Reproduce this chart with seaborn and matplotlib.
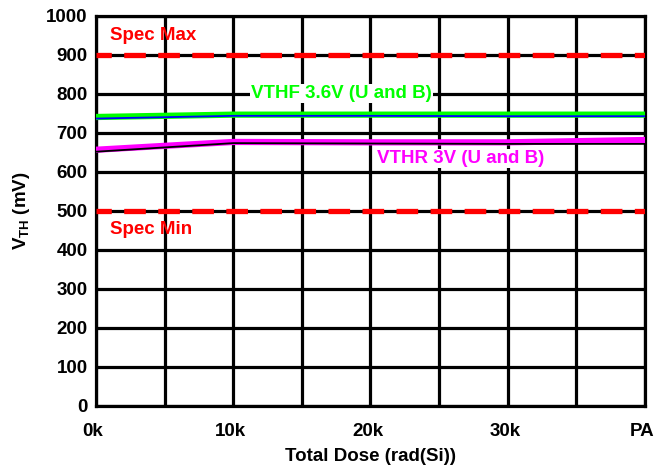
import numpy as np
import pandas as pd
import matplotlib
matplotlib.use("Agg")
import matplotlib.pyplot as plt
import matplotlib.transforms as mtransforms
from matplotlib.ticker import MultipleLocator
import seaborn as sns

# ======================================
# DATA
dose_k = [0, 10, 20, 30, 40]
dose_labels = ["0k", "10k", "20k", "30k", "PA"]
vthf_u = [741, 747, 747, 747, 747]   # green, thick
vthf_b = [737, 744, 744, 743, 743]   # blue, thin
vthr_u = [657, 677, 676, 676, 682]   # magenta, thick
vthr_b = [652, 674, 673, 672, 672]   # black, thin
spec_max = 900
spec_min = 500

df = pd.DataFrame({
    "dose": dose_k * 4,
    "vth": vthf_u + vthf_b + vthr_u + vthr_b,
    "series": ["VTHF U"] * 5 + ["VTHF B"] * 5 + ["VTHR U"] * 5 + ["VTHR B"] * 5,
})

# ======================================
# STYLE
sns.set_style("white")
plt.rcParams["font.family"] = ["Liberation Sans", "DejaVu Sans"]
plt.rcParams["font.weight"] = "bold"
for key in ["text.color", "axes.labelcolor", "xtick.color", "ytick.color"]:
    plt.rcParams[key] = "black"
FS = 13.5

fig = plt.figure(figsize=(6.54, 4.65), dpi=100)
ax = fig.add_axes([0.1468, 0.127, 0.8394, 0.8386])

ax.set_xlim(0, 40)
ax.set_ylim(0, 1000)
ax.xaxis.set_major_locator(MultipleLocator(10))
ax.xaxis.set_minor_locator(MultipleLocator(5))
ax.yaxis.set_major_locator(MultipleLocator(100))
ax.set_xticks(dose_k)
ax.set_xticklabels(dose_labels)

ax.grid(True, which="both", color="black", linewidth=2.3, zorder=0)
ax.set_axisbelow(True)
for s in ax.spines.values():
    s.set_color("black")
    s.set_linewidth(2.3)

ax.tick_params(axis="both", which="both", direction="out", length=4, width=2.3,
               color="black", labelcolor="black", labelsize=FS)
ax.tick_params(axis="x", which="major", pad=8)
ax.tick_params(axis="y", which="major", pad=2)
shift = mtransforms.ScaledTranslation(-3 / 100, 0, fig.dpi_scale_trans)
for lbl in ax.get_xticklabels():
    lbl.set_fontweight("bold")
    lbl.set_transform(lbl.get_transform() + shift)
for lbl in ax.get_yticklabels():
    lbl.set_fontweight("bold")

# ======================================
# SPEC LINES
for v in (spec_max, spec_min):
    ax.axhline(v, color="#ff0000", linewidth=3.8,
               linestyle=(1.2, (4.1, 2.35)), zorder=3)

# ======================================
# DATA LINES
palette = {"VTHF U": "#00ff00", "VTHF B": "#0000ff",
           "VTHR U": "#ff00ff", "VTHR B": "#000000"}
widths = {"VTHF U": 4.5, "VTHF B": 1.3, "VTHR U": 4.5, "VTHR B": 1.3}
for name in ["VTHF U", "VTHR U", "VTHF B", "VTHR B"]:
    sub = df[df["series"] == name]
    sns.lineplot(data=sub, x="dose", y="vth", color=palette[name],
                 linewidth=widths[name], ax=ax, zorder=4, legend=False)

# ======================================
# TEXT
ax.text(1.0, 950, "Spec Max", color="#ff0000", fontsize=FS, fontweight="bold",
        va="center", ha="left", zorder=5)
ax.text(1.0, 453, "Spec Min", color="#ff0000", fontsize=FS, fontweight="bold",
        va="center", ha="left", zorder=5)
ax.text(11.3, 801, "VTHF 3.6V (U and B)", color="#00ff00", fontsize=FS,
        fontweight="bold", va="center", ha="left", zorder=5,
        bbox=dict(facecolor="white", edgecolor="none", pad=1))
ax.text(20.5, 635, "VTHR 3V (U and B)", color="#ff00ff", fontsize=FS,
        fontweight="bold", va="center", ha="left", zorder=5,
        bbox=dict(facecolor="white", edgecolor="none", pad=1))

ax.set_xlabel("Total Dose (rad(Si))", fontsize=FS, fontweight="bold", labelpad=6)
ax.set_ylabel(r"V$_{\mathregular{TH}}$ (mV)", fontsize=FS, fontweight="bold",
              labelpad=10)

fig.savefig("out.png", dpi=100)
